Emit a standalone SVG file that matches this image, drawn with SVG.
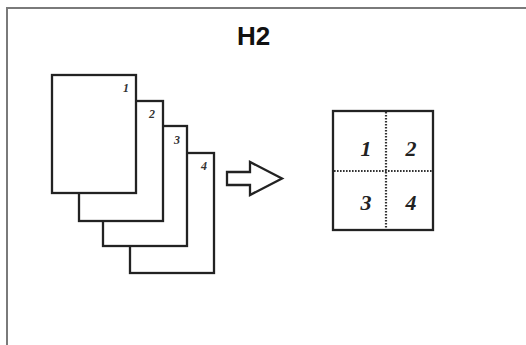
<svg xmlns="http://www.w3.org/2000/svg" width="526" height="345" viewBox="0 0 526 345">
<style>
.frame{stroke:#7a7a7a;stroke-width:2;fill:none}
.page{fill:#fff;stroke:#222;stroke-width:2.3}
.pn{font-family:"Liberation Serif",serif;font-style:italic;font-weight:bold;font-size:12px;fill:#333;text-anchor:middle}
.gn{font-family:"Liberation Serif",serif;font-style:italic;font-weight:bold;font-size:22px;fill:#222;text-anchor:middle}
.div{stroke:#333;stroke-width:2.2;stroke-dasharray:1.6 1.4;fill:none}
.ttl{font-family:"Liberation Sans",Arial,sans-serif;font-weight:bold;font-size:26px;fill:#111}
</style>
<rect width="526" height="345" fill="#fff"/>
<path class="frame" d="M7 345 V8 H526"/>
<text class="ttl" x="237" y="45">H2</text>
<g id="page4"><rect class="page" x="130" y="153" width="84" height="120"/><text class="pn" x="204" y="170">4</text></g>
<g id="page3"><rect class="page" x="103" y="126" width="84" height="120"/><text class="pn" x="177" y="144">3</text></g>
<g id="page2"><rect class="page" x="79" y="101" width="84" height="120"/><text class="pn" x="152" y="118">2</text></g>
<g id="page1"><rect class="page" x="52" y="75" width="84" height="118"/><text class="pn" x="126" y="92">1</text></g>
<g id="connectors">
<path d="M227 172 H250 V162 L282 178.5 L250 195 V185 H227 Z" fill="#fff" stroke="#222" stroke-width="2.3" stroke-linejoin="miter"/>
</g>
<g id="result">
<rect class="page" x="333" y="111" width="100" height="119"/>
<line class="div" x1="386" y1="112" x2="386" y2="229"/>
<line class="div" x1="334" y1="171" x2="432" y2="171"/>
<text class="gn" x="366" y="156">1</text>
<text class="gn" x="411" y="156">2</text>
<text class="gn" x="366" y="210">3</text>
<text class="gn" x="411" y="210">4</text>
</g>
</svg>
